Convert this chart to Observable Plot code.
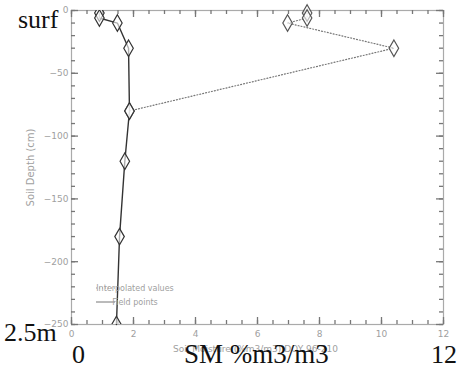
<!DOCTYPE html>
<html><head><meta charset="utf-8">
<script src="https://cdn.jsdelivr.net/npm/d3@7"></script>
<script src="https://cdn.jsdelivr.net/npm/@observablehq/plot@0.6"></script>
<style>
body{margin:0;background:#fff;}
#wrap{position:relative;width:461px;height:370px;overflow:hidden;}
.big{position:absolute;font-family:"Liberation Serif","DejaVu Serif",serif;color:#111;white-space:nowrap;line-height:1;}
</style></head>
<body><div id="wrap"></div>
<script>
// Field points (solid line)
const fieldSM    = [0.9, 0.9, 1.48, 1.84, 1.87, 1.72, 1.55, 1.45];
const fieldDepth = [-2, -6, -10, -30, -80, -120, -180, -250];
// Interpolated values (dotted line)
const interpSM    = [7.6, 7.6, 6.97, 10.4, 1.87];
const interpDepth = [-2, -6, -10, -30, -80];
// axis ticks
const xMajor = [0, 2, 4, 6, 8, 10, 12];
const xMinor = d3.range(0, 12.01, 0.5);
const yMajor = [0, -50, -100, -150, -200, -250];
const yMinor = d3.range(0, -250.1, -10);
const legendItems = ["Interpolated values", "Field points"];

const field = fieldSM.map((v, i) => ({sm: v, depth: fieldDepth[i]}));
const interp = interpSM.map((v, i) => ({sm: v, depth: interpDepth[i]}));

const W = 461, H = 370, mL = 71, mR = 18, mT = 10, mB = 46;
const xDom = [0, 12], yDom = [-250, 0];
const kx = (W - mL - mR) / (xDom[1] - xDom[0]);   // px per SM unit
const ky = (H - mT - mB) / (yDom[1] - yDom[0]);   // px per cm
const axC = "#777", labC = "#a0a0a0";
// inward ticks on all four sides, drawn as short rules
const tickMarks = [];
[[xMinor, 4], [xMajor, 7]].forEach(([t, s]) => {
  tickMarks.push(Plot.ruleX(t, {x: d => d, y1: yDom[0], y2: yDom[0] + s / ky, stroke: axC, strokeWidth: 1.3}));
  tickMarks.push(Plot.ruleX(t, {x: d => d, y1: yDom[1], y2: yDom[1] - s / ky, stroke: axC, strokeWidth: 1.3}));
});
[[yMinor, 4], [yMajor, 7]].forEach(([t, s]) => {
  tickMarks.push(Plot.ruleY(t, {y: d => d, x1: xDom[0], x2: xDom[0] + s / kx, stroke: axC, strokeWidth: 1.3}));
  tickMarks.push(Plot.ruleY(t, {y: d => d, x1: xDom[1], x2: xDom[1] - s / kx, stroke: axC, strokeWidth: 1.3}));
});

const chart = Plot.plot({
  width: W, height: H,
  marginLeft: mL, marginRight: mR, marginTop: mT, marginBottom: mB,
  style: {fontFamily: "DejaVu Sans, sans-serif", fontSize: "9px", background: "transparent"},
  x: {domain: xDom},
  y: {domain: yDom},
  marks: [
    Plot.frame({stroke: "#aaa", strokeWidth: 1.2}),
    ...tickMarks,
    Plot.axisX({anchor: "bottom", ticks: xMajor, tickSize: 0, tickPadding: 6, fill: labC, label: null}),
    Plot.axisY({anchor: "left", ticks: yMajor, tickSize: 0, tickPadding: 3, fill: labC, label: null}),
    Plot.line(interp, {x: "sm", y: "depth", stroke: "#777", strokeWidth: 1.2, strokeDasharray: "1,2"}),
    Plot.line(field, {x: "sm", y: "depth", stroke: "#333", strokeWidth: 1.4}),
    Plot.dot(interp, {x: "sm", y: "depth", symbol: "diamond", r: 5, fill: "white", fillOpacity: 0.6, stroke: "#555", strokeWidth: 1.2}),
    Plot.dot(field, {x: "sm", y: "depth", symbol: "diamond", r: 5, fill: "white", fillOpacity: 0.6, stroke: "#333", strokeWidth: 1.2, clip: true}),
    Plot.text(["Soil Depth (cm)"], {frameAnchor: "left", textAnchor: "middle", dx: -41, rotate: -90, fill: labC, fontSize: 10}),
    Plot.text(["Soil Moisture (%m3/m3) DOY 96-210"], {frameAnchor: "bottom", dx: -2, dy: 27, fill: labC, fontSize: 9})
  ]
});
const wrap = document.getElementById("wrap");
wrap.appendChild(chart);

// legend (inside the frame)
const leg = d3.select(chart).append("g").attr("font-family", "DejaVu Sans, sans-serif").attr("font-size", 8).attr("fill", labC);
legendItems.forEach((t, i) => {
  const y = 288 + i * 14;
  leg.append("line").attr("x1", 96).attr("x2", 115).attr("y1", y).attr("y2", y)
    .attr("stroke", i === 0 ? "#999" : "#777").attr("stroke-dasharray", i === 0 ? "1,2" : null);
  leg.append("text").attr("x", 135).attr("y", y + 3).text(t);
});

// big overlaid annotations
const labels = [
  {t: "surf", x: 18, y: 7, s: 26},
  {t: "2.5m", x: 4, y: 320, s: 26},
  {t: "0", x: 72, y: 342, s: 26},
  {t: "SM %m3/m3", x: 184, y: 341, s: 27},
  {t: "12", x: 431, y: 342, s: 26}
];
labels.forEach(l => {
  const d = document.createElement("div");
  d.className = "big"; d.textContent = l.t;
  d.style.left = l.x + "px"; d.style.top = l.y + "px"; d.style.fontSize = l.s + "px";
  wrap.appendChild(d);
});
</script></body></html>
